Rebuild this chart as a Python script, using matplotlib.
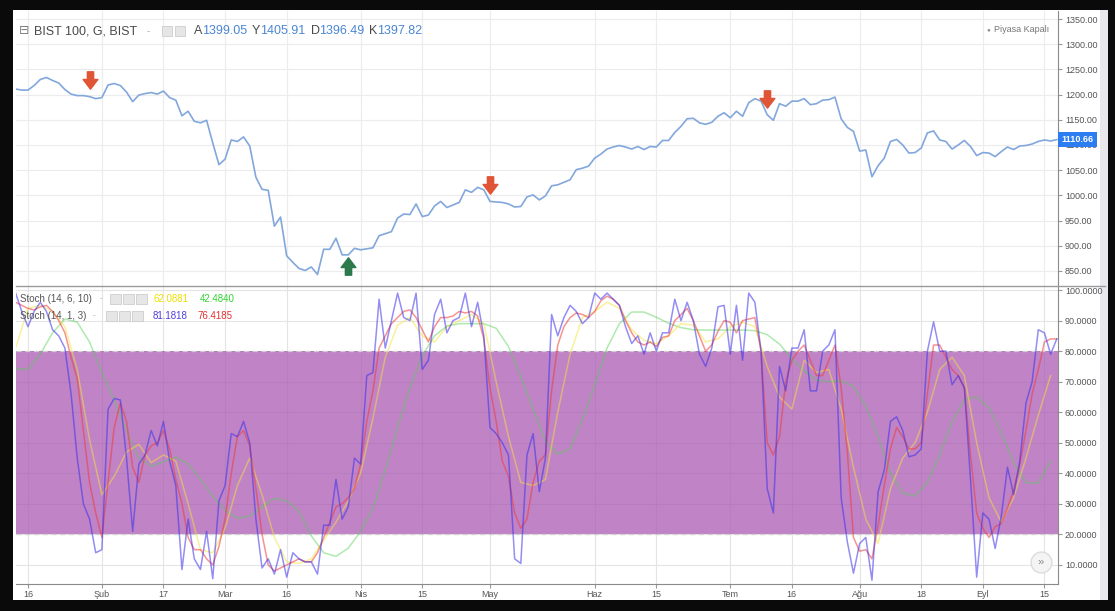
"""BIST 100 daily close with two stochastic oscillators (TradingView style)."""

import numpy as np
import matplotlib
matplotlib.use("Agg")
import matplotlib.pyplot as plt
from matplotlib.path import Path
from matplotlib.patches import Rectangle
from matplotlib.lines import Line2D
from matplotlib.ticker import FormatStrFormatter

plt.rcParams["font.family"] = ["Liberation Sans", "DejaVu Sans"]

W, H = 1115, 611

# sessions counted from 16 Jan 2020 (holidays skipped), first bar = 14 Jan
first_day = -2

close = [
    1211, 1209, 1209, 1218, 1230, 1234, 1228, 1223, 1210, 1201,
    1198, 1198, 1196, 1192, 1194, 1219, 1222, 1218, 1205, 1186,
    1199, 1202, 1204, 1201, 1207, 1194, 1189, 1158, 1167, 1147,
    1144, 1149, 1104, 1061, 1072, 1110, 1107, 1116, 1098, 1036,
    1012, 1010, 939, 957, 880, 867, 855, 851, 858, 843,
    893, 893, 915, 882, 882, 895, 892, 894, 896, 920,
    924, 928, 955, 963, 962, 983, 958, 961, 979, 988,
    976, 981, 986, 1011, 1006, 1016, 1011, 988, 987, 986,
    983, 977, 978, 997, 1001, 991, 999, 1019, 1021, 1026,
    1031, 1051, 1054, 1058, 1074, 1082, 1092, 1096, 1099, 1096,
    1092, 1097, 1091, 1097, 1096, 1109, 1109, 1125, 1137, 1152,
    1153, 1144, 1141, 1145, 1157, 1164, 1154, 1167, 1157, 1184,
    1192, 1187, 1160, 1149, 1182, 1177, 1187, 1187, 1192, 1180,
    1182, 1189, 1190, 1195, 1152, 1135, 1127, 1088, 1090, 1037,
    1059, 1074, 1107, 1111, 1100, 1084, 1085, 1094, 1124, 1128,
    1110, 1107, 1092, 1100, 1109, 1097, 1079, 1085, 1084, 1077,
    1087, 1096, 1091, 1098, 1099, 1102, 1107, 1110, 1108, 1110.66,
]

# Stoch (14, 1, 3): %K (blue) and %D (red)
stoch_k = [
    99, 93, 88, 93, 96, 93, 87, 85, 81, 66,
    45, 30, 25, 14, 15, 61, 64.5, 64, 45, 21,
    43, 46, 54, 49, 57, 44, 36, 8.5, 25, 12,
    8.5, 21, 5.5, 31, 36, 53, 52, 57, 50, 25,
    9, 12, 7, 15, 6, 14, 12, 11, 11, 7,
    23, 23, 38, 25, 29, 45, 43, 72, 73, 97,
    81, 90, 99, 91, 90, 99, 74, 77, 92, 97,
    86, 90, 91, 99, 88, 96, 85, 55, 53, 50,
    46, 12, 10.5, 46, 53, 34, 45, 92, 85, 91,
    95, 93, 89, 91, 99, 97, 99, 97, 95, 88,
    82.5, 85, 79, 86, 80, 86, 86, 97, 90, 96,
    90, 79, 75, 81, 94.5, 95, 79, 95, 77, 99,
    96, 80, 35, 27, 75, 67, 81, 81, 87, 67,
    67, 80, 82, 87, 32, 17.6, 7.3, 17, 19, 5,
    34, 41, 57, 58.5, 54, 45.4, 46, 48, 80, 89.6,
    80, 80, 69, 72, 68, 38, 6, 27, 25, 15.4,
    26, 42, 33, 44, 63, 70, 87, 86, 79, 84,
]
stoch_d = [
    96, 95, 94, 93.5, 94.5, 95, 93, 90, 86, 78,
    71, 54, 37, 27, 19, 37, 55, 63, 57, 42,
    37, 46, 49, 50, 54, 48, 38, 30, 19, 15,
    15, 12, 10, 16, 25, 40, 52, 54, 49, 35,
    20, 10, 8, 9, 10, 11, 12, 11, 11, 14,
    19, 24, 29, 30, 32, 35, 43, 57, 67, 81,
    85, 89, 91, 93, 93.5, 91, 87, 83, 88, 91,
    91, 91.5, 93, 92.5, 93, 91.5, 84, 68, 57, 44,
    39, 27, 22, 25, 37, 44, 46, 67, 82, 88,
    91, 92.5, 92, 91, 93, 96.5, 98, 97, 95, 90,
    86, 83, 82, 83, 81.5, 84.5, 85, 90, 92, 94,
    90, 85, 80, 82, 86.5, 90, 89.5, 86, 90, 90.5,
    91, 80, 50, 46, 52, 70, 77, 80, 82, 77,
    72, 72, 77, 82, 68, 47, 19, 14.5, 15, 12,
    23, 36, 48, 55, 52, 48, 48, 50, 66, 82,
    82, 78, 74, 72, 68, 46, 27, 22, 19, 22.5,
    23.6, 28.5, 34.5, 43, 54, 66, 74, 83, 84, 84,
]

# Stoch (14, 6, 10): %K (yellow) and %D (green), read every second session
slow_k = [
    81, 94, 95, 93, 88, 74, 51, 33, 39, 47,
    49.5, 43.5, 46, 44, 30, 15, 14, 22, 36, 45,
    33, 19, 11, 10.5, 12, 18, 24, 31, 40, 58,
    78, 88.5, 91, 85, 83, 88, 90, 92, 89, 70,
    52, 37, 36, 38, 60, 79, 91, 93, 96, 94,
    87, 83.5, 82.5, 85, 89, 88.5, 83, 84, 88, 89.5,
    88, 75, 65, 61, 77, 73, 74, 61, 42, 25,
    17, 35, 45, 50, 60, 74, 78, 72, 50, 32,
    24, 32, 45, 59, 72,
]
slow_d = [
    74.3, 74, 79, 86, 90.5, 89.5, 83, 73, 64, 54,
    45, 42.3, 43.8, 45.3, 43, 38, 32.5, 28, 25.3, 26,
    29, 31.8, 31, 27.5, 19.5, 14, 12.8, 15.5, 21, 28.5,
    41, 55, 68, 78.5, 85, 88.2, 89, 89, 89, 87.5,
    81.5, 71.5, 61, 50.5, 46.3, 48, 57.5, 69, 81, 89,
    92.8, 92.8, 91.1, 89.1, 87.7, 87, 86.9, 86.9, 86.9, 86.9,
    86.7, 85.4, 82.3, 77.5, 73.5, 70.5, 70, 70.3, 68.5, 62,
    52, 40, 33.5, 32.6, 37, 46, 57, 64, 65.1, 61.5,
    53.3, 43.5, 37, 36.8, 44,
]

tick_days = [0, 12, 22, 32, 42, 54, 64, 75, 92, 102, 114, 124, 135, 145, 155, 165]
tick_labels = ["16", "Şub", "17", "Mar", "16", "Nis", "15", "May",
               "Haz", "15", "Tem", "16", "Ağu", "18", "Eyl", "15"]

sell_days = [10, 75, 120]
buy_days = [52]

days = np.arange(first_day, first_day + len(close))
slow_days = np.arange(first_day, first_day + 2 * len(slow_k), 2)
close_arr = np.array(close)


def box(x0, y0, x1, y1):
    """Figure rect from pixel corners (y measured from top)."""
    return [x0 / W, 1 - y1 / H, (x1 - x0) / W, (y1 - y0) / H]


def txt(x, y, s, **kw):
    fig.text(x / W, 1 - y / H, s, va="center", ha="left", **kw)


def icon(x, y, w=10, h=10):
    fig.patches.append(Rectangle((x / W, 1 - (y + h / 2) / H), w / W, h / H,
                                 transform=fig.transFigure, fc="#e6e6e6",
                                 ec="#cdcdcd", lw=0.6, zorder=5))


fig = plt.figure(figsize=(W / 100, H / 100), dpi=100, facecolor="#0a0a0a")
fig.patches.append(Rectangle((13 / W, 1 - 600 / H), 1095 / W, 590 / H,
                             transform=fig.transFigure, fc="white", ec="none", zorder=-2))
fig.patches.append(Rectangle((1100 / W, 1 - 600 / H), 8 / W, 590 / H,
                             transform=fig.transFigure, fc="#e8e8ec", ec="none", zorder=-1))

ax1 = fig.add_axes(box(16, 11, 1058, 286))
ax2 = fig.add_axes(box(16, 287, 1058, 584))

# ---- price panel
ax1.plot(days, close, color="#82a7dc", lw=1.2, zorder=3)

down = Path([(-0.36, 1), (0.36, 1), (0.36, 0.12), (0.85, 0.12), (0, -1),
             (-0.85, 0.12), (-0.36, 0.12), (-0.36, 1)], closed=True)
up = Path([(x, -y) for x, y in down.vertices], closed=True)
sell_idx = np.array(sell_days) - first_day
buy_idx = np.array(buy_days) - first_day
ax1.plot(sell_days, close_arr[sell_idx] + 32, ls="none", marker=down, ms=12.5,
         color="#e05536", mec="#e05536", zorder=5)
ax1.plot(buy_days, close_arr[buy_idx] - 22, ls="none", marker=up, ms=12.5,
         color="#2c7a4c", mec="#2c7a4c", zorder=5)

ax1.set_xlim(-1.94, 167.2)
ax1.set_ylim(820.2, 1365.9)
ax1.set_yticks(np.arange(850, 1351, 50))
ax1.yaxis.set_major_formatter(FormatStrFormatter("%.2f"))
ax1.yaxis.tick_right()
ax1.set_xticks(tick_days)
ax1.tick_params(axis="x", length=0, labelbottom=False)
ax1.tick_params(axis="y", length=3, color="#999999", labelsize=6.5,
                labelcolor="#555555", pad=2)
ax1.grid(color="#ececec", lw=0.8)
ax1.set_axisbelow(True)
for s in ["left", "top", "bottom"]:
    ax1.spines[s].set_visible(False)
ax1.spines["right"].set_color("#8a8a8a")

ax1.annotate(f"{close[-1]:.2f}", xy=(1.0, close[-1]),
             xycoords=("axes fraction", "data"), xytext=(2.5, 0),
             textcoords="offset points", ha="left", va="center",
             fontsize=6.5, color="white", fontweight="bold",
             bbox=dict(boxstyle="square,pad=0.35", fc="#2c7cf2", ec="none"),
             zorder=10, annotation_clip=False)

# ---- stochastic panel
ax2.axhspan(20, 80, color="#ab5bb3", alpha=0.75, lw=0, zorder=1)
for lvl in (80, 20):
    ax2.axhline(lvl, color="#cfcfcf", lw=0.9, ls=(0, (4, 3)), zorder=2)
ax2.plot(slow_days, slow_d, color="#4fd04f", alpha=0.45, lw=1.1, zorder=3)
ax2.plot(slow_days, slow_k, color="#f5e23a", alpha=0.5, lw=1.1, zorder=3)
ax2.plot(days, stoch_d, color="#f03a3a", alpha=0.55, lw=1.1, zorder=4)
ax2.plot(days, stoch_k, color="#3b30ec", alpha=0.55, lw=1.1, zorder=4)

ax2.set_xlim(-1.94, 167.2)
ax2.set_ylim(3.76, 101)
ax2.set_yticks(range(10, 101, 10))
ax2.yaxis.set_major_formatter(FormatStrFormatter("%.4f"))
ax2.yaxis.tick_right()
ax2.set_xticks(tick_days)
ax2.set_xticklabels(tick_labels)
ax2.tick_params(axis="x", length=3, color="#999999", labelsize=6.5,
                labelcolor="#555555", pad=1)
ax2.tick_params(axis="y", length=3, color="#999999", labelsize=6.5,
                labelcolor="#555555", pad=2)
ax2.grid(color="#e4e4e4", lw=0.8)
ax2.set_axisbelow(True)
for s in ["left", "top"]:
    ax2.spines[s].set_visible(False)
for s in ["right", "bottom"]:
    ax2.spines[s].set_color("#8a8a8a")

ax2.plot([0.9837], [0.074], transform=ax2.transAxes, marker="o", ms=15,
         mfc="#f4f4f4", mec="#dcdcdc", zorder=6, clip_on=False)
ax2.text(0.9837, 0.074, "»", transform=ax2.transAxes, ha="center", va="center",
         fontsize=8, color="#888888", zorder=7)

fig.add_artist(Line2D([16 / W, 1105 / W], [1 - 286 / H] * 2, color="#9a9a9a", lw=1))

# ---- header and legends
txt(19, 31, "⊟", color="#808080", fontsize=9)
txt(34, 31, "BIST 100, G, BIST", color="#4a4a4a", fontsize=9)
txt(147, 31, "-", color="#aaaaaa", fontsize=7)
icon(162, 31)
icon(175, 31)
for x, lab, val in [(194, "A", "1399.05"), (252, "Y", "1405.91"),
                    (311, "D", "1396.49"), (369, "K", "1397.82")]:
    txt(x, 31, lab, color="#4a4a4a", fontsize=9)
    txt(x + 8, 31, val, color="#4a86d4", fontsize=9)
txt(986, 30, "●", color="#8a8a8a", fontsize=4.5)
txt(994, 30, "Piyasa Kapalı", color="#777777", fontsize=6.5)

txt(20, 299, "Stoch (14, 6, 10)", color="#555555", fontsize=7)
txt(100, 299, "-", color="#aaaaaa", fontsize=6)
for x in (110, 123, 136):
    icon(x, 299, 11, 10)
txt(153, 299, "62.0881", color="#eee000", fontsize=7)
txt(200, 299, "42.4840", color="#33d633", fontsize=7)
txt(20, 316, "Stoch (14, 1, 3)", color="#555555", fontsize=7)
txt(93, 316, "-", color="#aaaaaa", fontsize=6)
for x in (106, 119, 132):
    icon(x, 316, 11, 10)
txt(153, 316, "81.1818", color="#4a3fe0", fontsize=7)
txt(197, 316, "76.4185", color="#e83030", fontsize=7)

fig.savefig("out.png", dpi=100, facecolor=fig.get_facecolor())
